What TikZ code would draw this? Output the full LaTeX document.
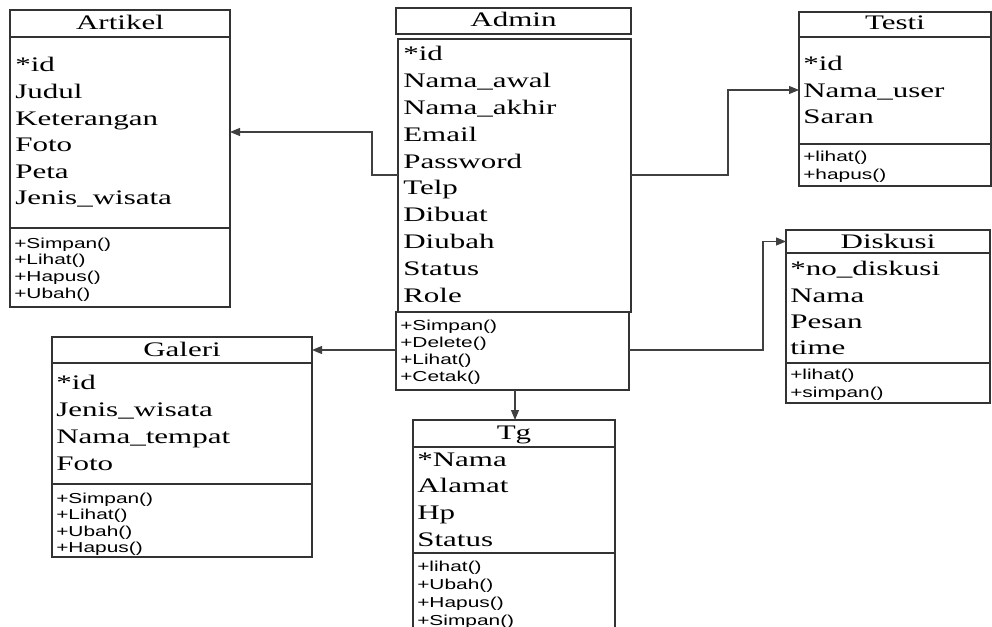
\documentclass[tikz,border=0pt]{standalone}
\usepackage{fontspec}
\newfontfamily\clsserif[FakeStretch=1.5]{Liberation Serif}
\newfontfamily\clssans[FakeStretch=1.45]{Liberation Sans}
\usetikzlibrary{arrows.meta,fit}
\tikzset{
  cls/.style={draw=black!80, line width=0.8pt, inner sep=0pt, outer sep=0pt},
  ttl/.style={anchor=base, inner sep=0pt, font=\clsserif\fontsize{15.5}{18}\selectfont},
  attr/.style={anchor=base west, inner sep=0pt, font=\clsserif\fontsize{15.5}{18}\selectfont},
  meth/.style={anchor=base west, inner sep=0pt, font=\clssans\fontsize{10.8}{12}\selectfont},
  conn/.style={draw=black!75, line width=0.8pt},
  arr/.style={conn, -{Triangle[length=7.5pt,width=6pt]}}
}
\begin{document}
\begin{tikzpicture}[x=0.75pt,y=-0.75pt]
\useasboundingbox[fill=white] (0,0) rectangle (992,627);

% ---------- Artikel ----------
\node[cls, fit={(10,10) (230,37)}] (artH) {};
\node[cls, fit={(10,37) (230,228)}] (artA) {};
\node[cls, fit={(10,228) (230,307)}] (artM) {};
\node[ttl] (artT) at (120,30) {Artikel};
\foreach \t [count=\i] in {*id,Judul,Keterangan,Foto,Peta,Jenis\_wisata}
  \node[attr] (artA\i) at (15,{72+26.6*(\i-1)}) {\t};
\foreach \t [count=\i] in {+Simpan(),+Lihat(),+Hapus(),+Ubah()}
  \node[meth] (artM\i) at (14,{248+16.7*(\i-1)}) {\t};

% ---------- Admin ----------
\node[cls, fit={(396,8) (631,34)}] (admH) {};
\node[cls, fit={(398,39) (631,312)}] (admA) {};
\node[cls, fit={(396,312) (629,390)}] (admM) {};
\node[ttl] (admT) at (513.5,27) {Admin};
\foreach \t [count=\i] in {*id,Nama\_awal,Nama\_akhir,Email,Password,Telp,Dibuat,Diubah,Status,Role}
  \node[attr] (admA\i) at (403,{61+26.8*(\i-1)}) {\t};
\foreach \t [count=\i] in {+Simpan(),+Delete(),+Lihat(),+Cetak()}
  \node[meth] (admM\i) at (400,{330+17*(\i-1)}) {\t};

% ---------- Testi ----------
\node[cls, fit={(799,12) (991,37)}] (tesH) {};
\node[cls, fit={(799,37) (991,144)}] (tesA) {};
\node[cls, fit={(799,144) (991,186)}] (tesM) {};
\node[ttl] (tesT) at (895,30) {Testi};
\foreach \t [count=\i] in {*id,Nama\_user,Saran}
  \node[attr] (tesA\i) at (803,{71+26.5*(\i-1)}) {\t};
\foreach \t [count=\i] in {+lihat(),+hapus()}
  \node[meth] (tesM\i) at (803,{162+18*(\i-1)}) {\t};

% ---------- Diskusi ----------
\node[cls, fit={(786,230) (990,253)}] (disH) {};
\node[cls, fit={(786,253) (990,363)}] (disA) {};
\node[cls, fit={(786,363) (990,403)}] (disM) {};
\node[ttl] (disT) at (888,248) {Diskusi};
\foreach \t [count=\i] in {*no\_diskusi,Nama,Pesan,time}
  \node[attr] (disA\i) at (790,{276+26*(\i-1)}) {\t};
\foreach \t [count=\i] in {+lihat(),+simpan()}
  \node[meth] (disM\i) at (790,{379+18*(\i-1)}) {\t};

% ---------- Galeri ----------
\node[cls, fit={(52,337) (312,363)}] (galH) {};
\node[cls, fit={(52,363) (312,484)}] (galA) {};
\node[cls, fit={(52,484) (312,557)}] (galM) {};
\node[ttl] (galT) at (182,356) {Galeri};
\foreach \t [count=\i] in {*id,Jenis\_wisata,Nama\_tempat,Foto}
  \node[attr] (galA\i) at (56,{389+27*(\i-1)}) {\t};
\foreach \t [count=\i] in {+Simpan(),+Lihat(),+Ubah(),+Hapus()}
  \node[meth] (galM\i) at (56,{503+16.5*(\i-1)}) {\t};

% ---------- Tg ----------
\node[cls, fit={(413,420) (615,447)}] (tgH) {};
\node[cls, fit={(413,447) (615,553)}] (tgA) {};
\node[cls, fit={(413,553) (615,634)}] (tgM) {};
\node[ttl] (tgT) at (514,439) {Tg};
\foreach \t [count=\i] in {*Nama,Alamat,Hp,Status}
  \node[attr] (tgA\i) at (417,{466+26.7*(\i-1)}) {\t};
\foreach \t [count=\i] in {+lihat(),+Ubah(),+Hapus(),+Simpan()}
  \node[meth] (tgM\i) at (417,{571+18*(\i-1)}) {\t};

% ---------- connectors ----------
\coordinate (c1) at (372,175);
\coordinate (c2) at (728,175);
\coordinate (c3) at (763,350);
\draw[arr] (admA.west |- c1) -- (c1) |- (artA.east |- 0,132);
\draw[arr] (admA.east |- c2) -- (c2) |- (tesA.west |- 0,90);
\draw[arr] (admM.west |- 0,350) -- (galH.east |- 0,350);
\draw[arr] (admM.east |- c3) -- (c3) |- (disH.west);
\draw[arr] (admM.south -| 515,0) -- (tgH.north -| 515,0);
\end{tikzpicture}
\end{document}
